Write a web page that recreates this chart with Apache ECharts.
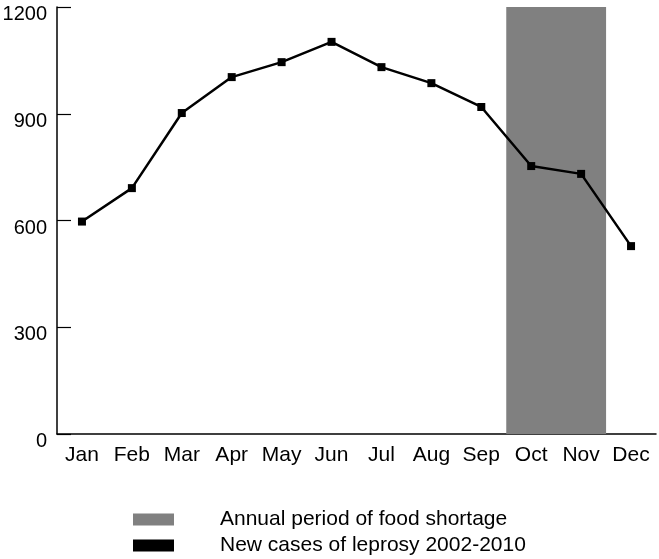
<!DOCTYPE html>
<html>
<head>
<meta charset="utf-8">
<script src="https://cdn.jsdelivr.net/npm/echarts@6/dist/echarts.min.js"></script>
<style>html,body{margin:0;padding:0;background:#fff}#c{width:659px;height:559px}</style>
</head>
<body>
<div id="c"></div>
<script>
var months = ['Jan','Feb','Mar','Apr','May','Jun','Jul','Aug','Sep','Oct','Nov','Dec'];
var newCases = [597, 691, 902, 1003, 1045, 1102, 1031, 986, 919, 753, 731, 528];
var shortageMonths = ['Oct','Nov'];
var yTicks = [0, 300, 600, 900, 1200];
var shortageName = 'Annual period of food shortage';
var casesName = 'New cases of leprosy 2002-2010';

var yMax = yTicks[yTicks.length - 1];
var shortageData = [[months.indexOf(shortageMonths[0]), months.indexOf(shortageMonths[shortageMonths.length - 1]), yMax]];

var chart = echarts.init(document.getElementById('c'), null, {renderer: 'canvas'});
var font = 'Liberation Sans, Arial, sans-serif';
var legendText = {fontFamily: font, fontSize: 21, color: '#000', padding: [0, 0, 0, 41]};
chart.setOption({
  animation: false,
  textStyle: {fontFamily: font},
  grid: {left: 57, right: 3, top: 7, bottom: 125, containLabel: false, outerBoundsMode: 'none'},
  legend: [
    {
      orient: 'vertical', left: 133, top: 509, padding: 0,
      itemWidth: 41, itemHeight: 12, textStyle: legendText, selectedMode: false,
      data: [{name: shortageName, icon: 'rect', itemStyle: {color: '#808080'}}]
    },
    {
      orient: 'vertical', left: 133, top: 535, padding: 0,
      itemWidth: 41, itemHeight: 12, textStyle: legendText, selectedMode: false,
      data: [{name: casesName, icon: 'rect', itemStyle: {color: '#000'}}]
    }
  ],
  xAxis: {
    type: 'category', data: months, boundaryGap: true,
    axisLine: {lineStyle: {color: '#000', width: 1.5}},
    axisTick: {inside: true, length: 10, alignWithLabel: false, lineStyle: {color: '#000', width: 1.2}},
    axisLabel: {fontFamily: font, fontSize: 21, color: '#000', margin: 11, interval: 0},
    splitLine: {show: false}
  },
  yAxis: {
    type: 'value', min: 0, max: yMax, interval: 300,
    axisLine: {show: true, lineStyle: {color: '#000', width: 1.5}},
    axisTick: {show: true, inside: true, length: 14, lineStyle: {color: '#000', width: 1.2}},
    axisLabel: {
      fontFamily: font, fontSize: 20, color: '#000', margin: 10,
      verticalAlign: 'top', lineHeight: 15,
      formatter: function (v) { return String(v); }
    },
    splitLine: {show: false}
  },
  series: [
    {
      name: shortageName, type: 'custom', data: shortageData,
      encode: {x: [0, 1], y: 2},
      renderItem: function (params, api) {
        var p0 = api.coord([api.value(0), api.value(2)]);
        var p1 = api.coord([api.value(1), 0]);
        var w = api.size([1, 0])[0];
        return {
          type: 'rect',
          shape: {x: p0[0] - w / 2, y: p0[1], width: p1[0] - p0[0] + w, height: p1[1] - p0[1]},
          style: {fill: '#808080'}
        };
      },
      itemStyle: {color: '#808080'}, z: 1, silent: true
    },
    {
      name: casesName, type: 'line', data: newCases,
      symbol: 'rect', symbolSize: 8, showAllSymbol: true,
      lineStyle: {color: '#000', width: 2.5},
      itemStyle: {color: '#000'}, z: 3
    }
  ]
});
</script>
</body>
</html>
